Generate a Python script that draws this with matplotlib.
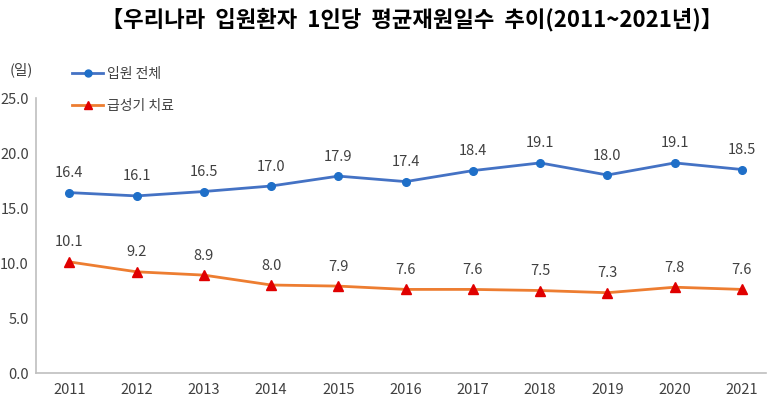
import matplotlib.pyplot as plt
from matplotlib.lines import Line2D

plt.rcParams['font.family'] = ['Noto Sans CJK KR', 'DejaVu Sans']

years = [2011, 2012, 2013, 2014, 2015, 2016, 2017, 2018, 2019, 2020, 2021]
total = [16.4, 16.1, 16.5, 17.0, 17.9, 17.4, 18.4, 19.1, 18.0, 19.1, 18.5]
acute = [10.1, 9.2, 8.9, 8.0, 7.9, 7.6, 7.6, 7.5, 7.3, 7.8, 7.6]
yticks = [0, 5, 10, 15, 20, 25]

fig = plt.figure(figsize=(7.77, 4.05), dpi=100)
ax = fig.add_axes([0.046, 0.079, 0.94, 0.679])

blue_line = "#4472C4"
blue_mark = "#1F6FC8"
orange_line = "#ED7D31"
red_mark = "#E00000"
txt = "#404040"

ax.plot(years, total, color=blue_line, lw=2, marker="o", ms=5.5,
        mfc=blue_mark, mec=blue_mark, zorder=3)
ax.plot(years, acute, color=orange_line, lw=2, marker="^", ms=6.5,
        mfc=red_mark, mec=red_mark, zorder=3)

for x, v in zip(years, total):
    ax.annotate(f"{v:.1f}", (x, v), xytext=(0, 9), textcoords="offset points",
                ha="center", va="bottom", fontsize=10.5, color=txt)
for x, v in zip(years, acute):
    ax.annotate(f"{v:.1f}", (x, v), xytext=(0, 9), textcoords="offset points",
                ha="center", va="bottom", fontsize=10.5, color=txt)

ax.set_xlim(2010.5, 2021.36)
ax.set_ylim(0, 25)
ax.set_xticks(years)
ax.set_yticks(yticks)
ax.set_yticklabels([f"{t:.1f}" for t in yticks])
ax.tick_params(length=0, labelsize=10.5, colors=txt, pad=7)
ax.tick_params(axis="y", pad=5)
for s in ["top", "right"]:
    ax.spines[s].set_visible(False)
for s in ["left", "bottom"]:
    ax.spines[s].set_color("#BFBFBF")
    ax.spines[s].set_linewidth(1.2)

handles = [
    Line2D([], [], color=blue_line, lw=2, marker="o", ms=5, mfc=blue_mark, mec=blue_mark),
    Line2D([], [], color=orange_line, lw=2, marker="^", ms=6, mfc=red_mark, mec=red_mark),
]
fig.legend(handles, ["입원 전체", "급성기 치료"], loc="upper left",
           bbox_to_anchor=(0.077, 0.865), frameon=False, fontsize=10,
           labelcolor=txt, handlelength=2.2, handletextpad=0.3, labelspacing=1.25)

fig.text(0.028, 0.828, "(일)", fontsize=10.5, color=txt, ha="center", va="center")
fig.text(0.53, 0.952, "【우리나라  입원환자  1인당  평균재원일수  추이(2011~2021년)】",
         fontsize=16, fontweight="bold", ha="center", va="center", color="black")

fig.savefig("out.png", dpi=100)
